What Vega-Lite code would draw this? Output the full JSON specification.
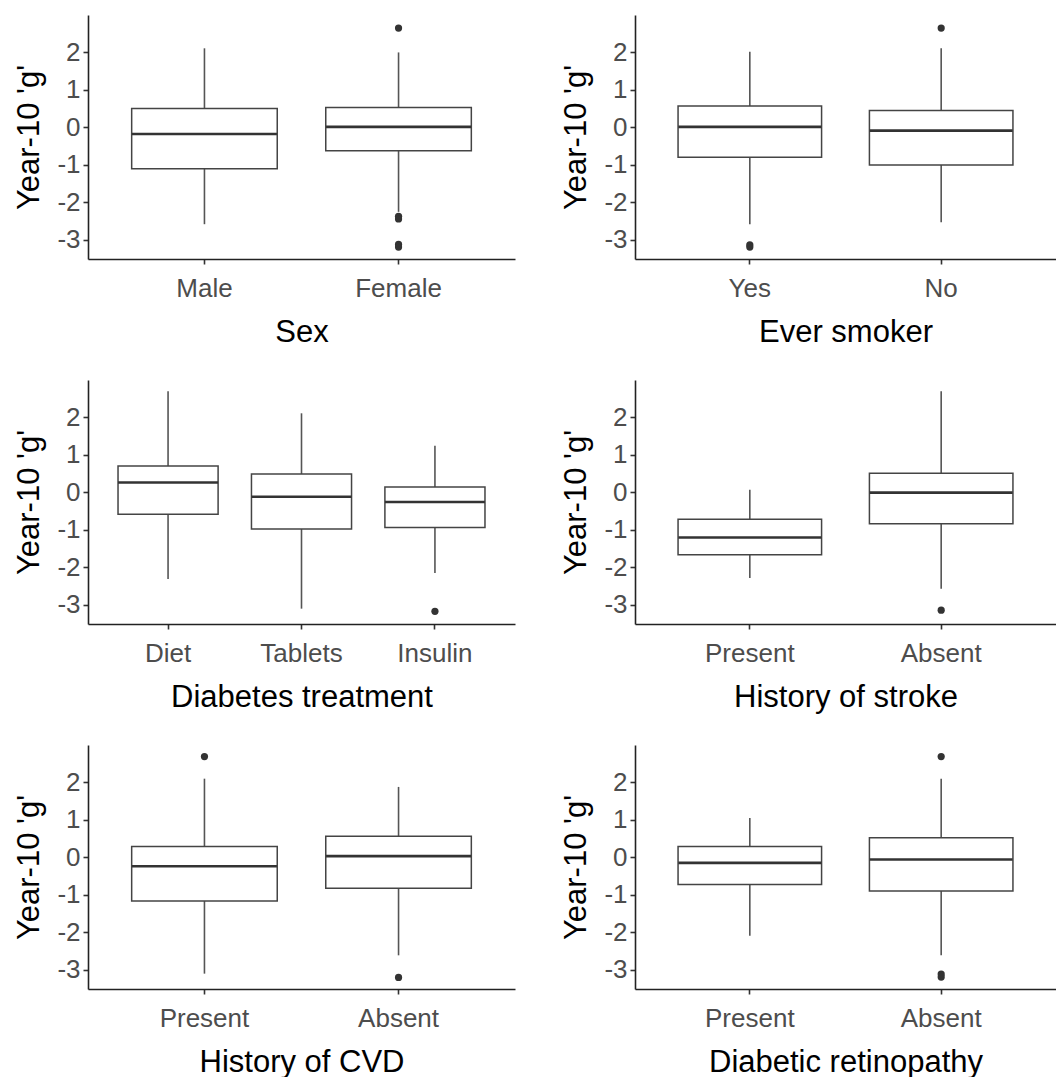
{
  "$schema": "https://vega.github.io/schema/vega-lite/v6.json",
  "background": "white",
  "padding": {"left": 13, "top": 15, "right": 0, "bottom": 0},
  "datasets": {
    "boxes": [
      {"panel": "sex", "group": "Male", "lo": -2.59, "q1": -1.11, "med": -0.18, "q3": 0.50, "hi": 2.11},
      {"panel": "sex", "group": "Female", "lo": -2.26, "q1": -0.63, "med": 0.01, "q3": 0.53, "hi": 2.00},
      {"panel": "smoker", "group": "Yes", "lo": -2.59, "q1": -0.80, "med": 0.01, "q3": 0.57, "hi": 2.02},
      {"panel": "smoker", "group": "No", "lo": -2.54, "q1": -1.01, "med": -0.09, "q3": 0.45, "hi": 2.11},
      {"panel": "treatment", "group": "Diet", "lo": -2.32, "q1": -0.59, "med": 0.26, "q3": 0.70, "hi": 2.70},
      {"panel": "treatment", "group": "Tablets", "lo": -3.11, "q1": -0.98, "med": -0.12, "q3": 0.49, "hi": 2.11},
      {"panel": "treatment", "group": "Insulin", "lo": -2.16, "q1": -0.94, "med": -0.26, "q3": 0.14, "hi": 1.24},
      {"panel": "stroke", "group": "Present", "lo": -2.29, "q1": -1.67, "med": -1.21, "q3": -0.72, "hi": 0.07},
      {"panel": "stroke", "group": "Absent", "lo": -2.58, "q1": -0.84, "med": -0.01, "q3": 0.51, "hi": 2.70},
      {"panel": "cvd", "group": "Present", "lo": -3.11, "q1": -1.17, "med": -0.24, "q3": 0.29, "hi": 2.10},
      {"panel": "cvd", "group": "Absent", "lo": -2.62, "q1": -0.83, "med": 0.03, "q3": 0.56, "hi": 1.88},
      {"panel": "retino", "group": "Present", "lo": -2.10, "q1": -0.73, "med": -0.15, "q3": 0.29, "hi": 1.05},
      {"panel": "retino", "group": "Absent", "lo": -2.62, "q1": -0.90, "med": -0.06, "q3": 0.52, "hi": 2.10}
    ],
    "outliers": [
      {"panel": "sex", "group": "Female", "g": 2.65},
      {"panel": "sex", "group": "Female", "g": -2.38},
      {"panel": "sex", "group": "Female", "g": -2.45},
      {"panel": "sex", "group": "Female", "g": -3.13},
      {"panel": "sex", "group": "Female", "g": -3.20},
      {"panel": "smoker", "group": "Yes", "g": -3.14},
      {"panel": "smoker", "group": "Yes", "g": -3.20},
      {"panel": "smoker", "group": "No", "g": 2.65},
      {"panel": "treatment", "group": "Insulin", "g": -3.18},
      {"panel": "stroke", "group": "Absent", "g": -3.15},
      {"panel": "cvd", "group": "Present", "g": 2.69},
      {"panel": "cvd", "group": "Absent", "g": -3.21},
      {"panel": "retino", "group": "Absent", "g": 2.69},
      {"panel": "retino", "group": "Absent", "g": -3.12},
      {"panel": "retino", "group": "Absent", "g": -3.20}
    ]
  },
  "columns": 2,
  "spacing": {"column": 45, "row": 33},
  "concat": [
    {
      "width": 427, "height": 244,
      "layer": [
        {"data": {"name": "boxes"}, "transform": [{"filter": "datum.panel === 'sex'"}], "mark": {"type": "rule", "color": "#555555", "strokeWidth": 1.6}, "encoding": {"x": {"field": "group", "type": "nominal", "scale": {"domain": ["Male", "Female"], "paddingInner": 0, "paddingOuter": 0.1}, "axis": {"title": "Sex"}}, "y": {"field": "lo", "type": "quantitative", "scale": {"domain": [-3.52, 3.0], "nice": false, "zero": false}, "axis": {"title": "Year-10 'g'", "values": [-3, -2, -1, 0, 1, 2]}}, "y2": {"field": "hi"}}},
        {"data": {"name": "boxes"}, "transform": [{"filter": "datum.panel === 'sex'"}], "mark": {"type": "bar", "fill": "white", "stroke": "#444444", "strokeWidth": 1.5, "width": {"band": 0.75}}, "encoding": {"x": {"field": "group", "type": "nominal"}, "y": {"field": "q1", "type": "quantitative"}, "y2": {"field": "q3"}}},
        {"data": {"name": "boxes"}, "transform": [{"filter": "datum.panel === 'sex'"}], "mark": {"type": "tick", "color": "#333333", "thickness": 2.6, "size": 145, "opacity": 1}, "encoding": {"x": {"field": "group", "type": "nominal"}, "y": {"field": "med", "type": "quantitative"}}},
        {"data": {"name": "outliers"}, "transform": [{"filter": "datum.panel === 'sex'"}], "mark": {"type": "circle", "color": "#333333", "size": 52, "opacity": 1}, "encoding": {"x": {"field": "group", "type": "nominal"}, "y": {"field": "g", "type": "quantitative"}}}
      ]
    },
    {
      "width": 421, "height": 244,
      "layer": [
        {"data": {"name": "boxes"}, "transform": [{"filter": "datum.panel === 'smoker'"}], "mark": {"type": "rule", "color": "#555555", "strokeWidth": 1.6}, "encoding": {"x": {"field": "group", "type": "nominal", "scale": {"domain": ["Yes", "No"], "paddingInner": 0, "paddingOuter": 0.1}, "axis": {"title": "Ever smoker"}}, "y": {"field": "lo", "type": "quantitative", "scale": {"domain": [-3.52, 3.0], "nice": false, "zero": false}, "axis": {"title": "Year-10 'g'", "values": [-3, -2, -1, 0, 1, 2]}}, "y2": {"field": "hi"}}},
        {"data": {"name": "boxes"}, "transform": [{"filter": "datum.panel === 'smoker'"}], "mark": {"type": "bar", "fill": "white", "stroke": "#444444", "strokeWidth": 1.5, "width": {"band": 0.75}}, "encoding": {"x": {"field": "group", "type": "nominal"}, "y": {"field": "q1", "type": "quantitative"}, "y2": {"field": "q3"}}},
        {"data": {"name": "boxes"}, "transform": [{"filter": "datum.panel === 'smoker'"}], "mark": {"type": "tick", "color": "#333333", "thickness": 2.6, "size": 143, "opacity": 1}, "encoding": {"x": {"field": "group", "type": "nominal"}, "y": {"field": "med", "type": "quantitative"}}},
        {"data": {"name": "outliers"}, "transform": [{"filter": "datum.panel === 'smoker'"}], "mark": {"type": "circle", "color": "#333333", "size": 52, "opacity": 1}, "encoding": {"x": {"field": "group", "type": "nominal"}, "y": {"field": "g", "type": "quantitative"}}}
      ]
    },
    {
      "width": 427, "height": 244,
      "layer": [
        {"data": {"name": "boxes"}, "transform": [{"filter": "datum.panel === 'treatment'"}], "mark": {"type": "rule", "color": "#555555", "strokeWidth": 1.6}, "encoding": {"x": {"field": "group", "type": "nominal", "scale": {"domain": ["Diet", "Tablets", "Insulin"], "paddingInner": 0, "paddingOuter": 0.1}, "axis": {"title": "Diabetes treatment"}}, "y": {"field": "lo", "type": "quantitative", "scale": {"domain": [-3.52, 3.0], "nice": false, "zero": false}, "axis": {"title": "Year-10 'g'", "values": [-3, -2, -1, 0, 1, 2]}}, "y2": {"field": "hi"}}},
        {"data": {"name": "boxes"}, "transform": [{"filter": "datum.panel === 'treatment'"}], "mark": {"type": "bar", "fill": "white", "stroke": "#444444", "strokeWidth": 1.5, "width": {"band": 0.75}}, "encoding": {"x": {"field": "group", "type": "nominal"}, "y": {"field": "q1", "type": "quantitative"}, "y2": {"field": "q3"}}},
        {"data": {"name": "boxes"}, "transform": [{"filter": "datum.panel === 'treatment'"}], "mark": {"type": "tick", "color": "#333333", "thickness": 2.6, "size": 100, "opacity": 1}, "encoding": {"x": {"field": "group", "type": "nominal"}, "y": {"field": "med", "type": "quantitative"}}},
        {"data": {"name": "outliers"}, "transform": [{"filter": "datum.panel === 'treatment'"}], "mark": {"type": "circle", "color": "#333333", "size": 52, "opacity": 1}, "encoding": {"x": {"field": "group", "type": "nominal"}, "y": {"field": "g", "type": "quantitative"}}}
      ]
    },
    {
      "width": 421, "height": 244,
      "layer": [
        {"data": {"name": "boxes"}, "transform": [{"filter": "datum.panel === 'stroke'"}], "mark": {"type": "rule", "color": "#555555", "strokeWidth": 1.6}, "encoding": {"x": {"field": "group", "type": "nominal", "scale": {"domain": ["Present", "Absent"], "paddingInner": 0, "paddingOuter": 0.1}, "axis": {"title": "History of stroke"}}, "y": {"field": "lo", "type": "quantitative", "scale": {"domain": [-3.52, 3.0], "nice": false, "zero": false}, "axis": {"title": "Year-10 'g'", "values": [-3, -2, -1, 0, 1, 2]}}, "y2": {"field": "hi"}}},
        {"data": {"name": "boxes"}, "transform": [{"filter": "datum.panel === 'stroke'"}], "mark": {"type": "bar", "fill": "white", "stroke": "#444444", "strokeWidth": 1.5, "width": {"band": 0.75}}, "encoding": {"x": {"field": "group", "type": "nominal"}, "y": {"field": "q1", "type": "quantitative"}, "y2": {"field": "q3"}}},
        {"data": {"name": "boxes"}, "transform": [{"filter": "datum.panel === 'stroke'"}], "mark": {"type": "tick", "color": "#333333", "thickness": 2.6, "size": 143, "opacity": 1}, "encoding": {"x": {"field": "group", "type": "nominal"}, "y": {"field": "med", "type": "quantitative"}}},
        {"data": {"name": "outliers"}, "transform": [{"filter": "datum.panel === 'stroke'"}], "mark": {"type": "circle", "color": "#333333", "size": 52, "opacity": 1}, "encoding": {"x": {"field": "group", "type": "nominal"}, "y": {"field": "g", "type": "quantitative"}}}
      ]
    },
    {
      "width": 427, "height": 244,
      "layer": [
        {"data": {"name": "boxes"}, "transform": [{"filter": "datum.panel === 'cvd'"}], "mark": {"type": "rule", "color": "#555555", "strokeWidth": 1.6}, "encoding": {"x": {"field": "group", "type": "nominal", "scale": {"domain": ["Present", "Absent"], "paddingInner": 0, "paddingOuter": 0.1}, "axis": {"title": "History of CVD"}}, "y": {"field": "lo", "type": "quantitative", "scale": {"domain": [-3.52, 3.0], "nice": false, "zero": false}, "axis": {"title": "Year-10 'g'", "values": [-3, -2, -1, 0, 1, 2]}}, "y2": {"field": "hi"}}},
        {"data": {"name": "boxes"}, "transform": [{"filter": "datum.panel === 'cvd'"}], "mark": {"type": "bar", "fill": "white", "stroke": "#444444", "strokeWidth": 1.5, "width": {"band": 0.75}}, "encoding": {"x": {"field": "group", "type": "nominal"}, "y": {"field": "q1", "type": "quantitative"}, "y2": {"field": "q3"}}},
        {"data": {"name": "boxes"}, "transform": [{"filter": "datum.panel === 'cvd'"}], "mark": {"type": "tick", "color": "#333333", "thickness": 2.6, "size": 145, "opacity": 1}, "encoding": {"x": {"field": "group", "type": "nominal"}, "y": {"field": "med", "type": "quantitative"}}},
        {"data": {"name": "outliers"}, "transform": [{"filter": "datum.panel === 'cvd'"}], "mark": {"type": "circle", "color": "#333333", "size": 52, "opacity": 1}, "encoding": {"x": {"field": "group", "type": "nominal"}, "y": {"field": "g", "type": "quantitative"}}}
      ]
    },
    {
      "width": 421, "height": 244,
      "layer": [
        {"data": {"name": "boxes"}, "transform": [{"filter": "datum.panel === 'retino'"}], "mark": {"type": "rule", "color": "#555555", "strokeWidth": 1.6}, "encoding": {"x": {"field": "group", "type": "nominal", "scale": {"domain": ["Present", "Absent"], "paddingInner": 0, "paddingOuter": 0.1}, "axis": {"title": "Diabetic retinopathy"}}, "y": {"field": "lo", "type": "quantitative", "scale": {"domain": [-3.52, 3.0], "nice": false, "zero": false}, "axis": {"title": "Year-10 'g'", "values": [-3, -2, -1, 0, 1, 2]}}, "y2": {"field": "hi"}}},
        {"data": {"name": "boxes"}, "transform": [{"filter": "datum.panel === 'retino'"}], "mark": {"type": "bar", "fill": "white", "stroke": "#444444", "strokeWidth": 1.5, "width": {"band": 0.75}}, "encoding": {"x": {"field": "group", "type": "nominal"}, "y": {"field": "q1", "type": "quantitative"}, "y2": {"field": "q3"}}},
        {"data": {"name": "boxes"}, "transform": [{"filter": "datum.panel === 'retino'"}], "mark": {"type": "tick", "color": "#333333", "thickness": 2.6, "size": 143, "opacity": 1}, "encoding": {"x": {"field": "group", "type": "nominal"}, "y": {"field": "med", "type": "quantitative"}}},
        {"data": {"name": "outliers"}, "transform": [{"filter": "datum.panel === 'retino'"}], "mark": {"type": "circle", "color": "#333333", "size": 52, "opacity": 1}, "encoding": {"x": {"field": "group", "type": "nominal"}, "y": {"field": "g", "type": "quantitative"}}}
      ]
    }
  ],
  "config": {
    "view": {"stroke": null},
    "font": "Liberation Sans",
    "axis": {
      "grid": false,
      "domainColor": "#222222",
      "domainWidth": 1.6,
      "tickColor": "#333333",
      "tickWidth": 1.6,
      "tickSize": 5,
      "labelFontSize": 26,
      "labelColor": "#4d4d4d",
      "titleFontSize": 31,
      "titleFontWeight": "normal",
      "titleColor": "#000000"
    },
    "axisY": {"labelPadding": 3, "titlePadding": 11, "labelExpr": "datum.value < 0 ? '-' + abs(datum.value) : '' + datum.value"},
    "axisX": {"labelPadding": 11, "titlePadding": 16, "labelAngle": 0}
  }
}
